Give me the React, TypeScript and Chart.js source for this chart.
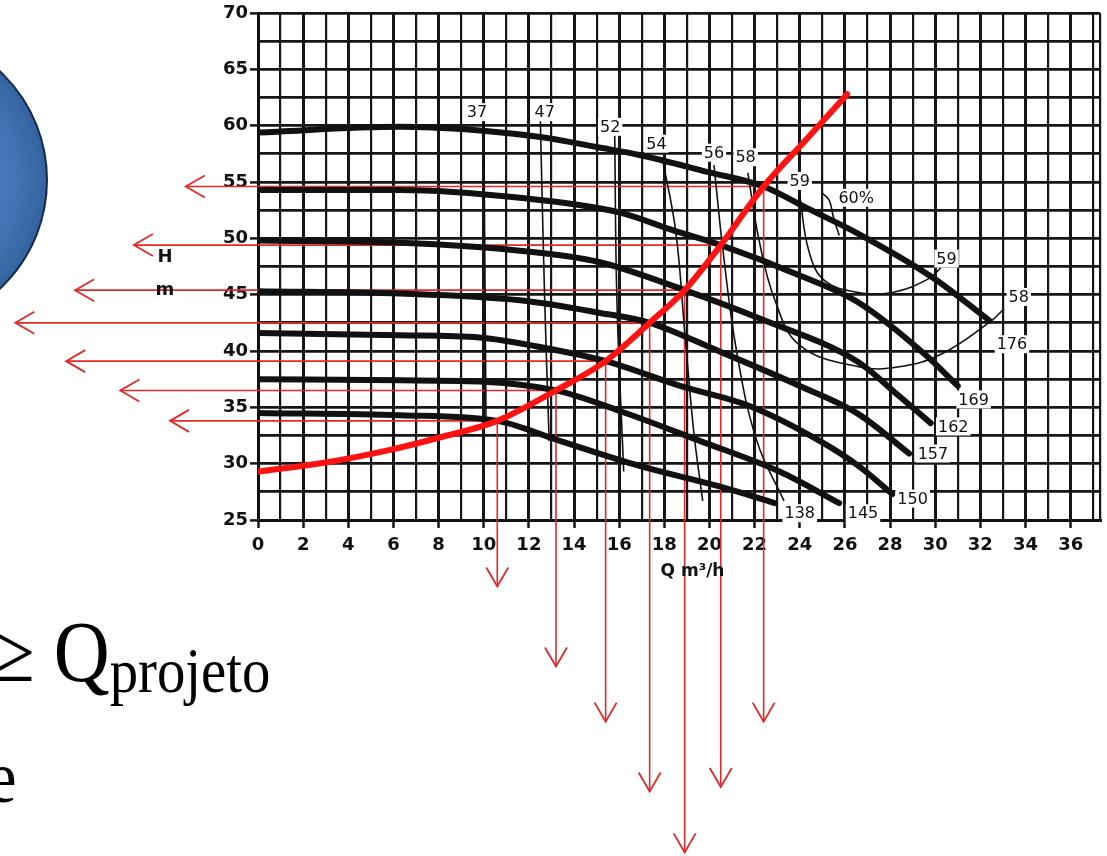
import React, { useEffect, useRef } from 'react';
import { Chart, registerables } from 'chart.js';

Chart.register(...registerables);

// ---- axes ----
const flowGrid = [0, 1, 2, 3, 4, 5, 6, 7, 8, 9, 10, 11, 12, 13, 14, 15, 16, 17, 18, 19, 20, 21, 22, 23, 24, 25, 26, 27, 28, 29, 30, 31, 32, 33, 34, 35, 36, 37];
const flowLabels = [0, 2, 4, 6, 8, 10, 12, 14, 16, 18, 20, 22, 24, 26, 28, 30, 32, 34, 36];
const flowMax = 37.3;
const headMin = 25;
const headMax = 70;

// ---- impeller head curves (Q m3/h, H m) ----
const diameters = ['176', '169', '162', '157', '150', '145', '138'];
const q176 = [0, 6.3, 12.5, 15.0, 16.9, 19.9, 22.4, 24.3, 26.6, 29.9, 32.4];
const h176 = [59.4, 59.9, 59.0, 58.1, 57.4, 55.9, 54.6, 52.7, 50.4, 46.5, 42.7];
const q169 = [0, 6.3, 11.6, 16.0, 18.4, 20.5, 24.0, 26.6, 29.6, 31.0];
const h169 = [54.3, 54.3, 53.6, 52.3, 50.7, 49.4, 46.7, 44.3, 39.6, 36.9];
const q162 = [0, 6.3, 11.6, 15.1, 18.9, 22.2, 26.6, 28.4, 29.8];
const h162 = [49.8, 49.6, 48.9, 47.9, 45.4, 42.9, 39.0, 36.0, 33.6];
const q157 = [0, 6.3, 11.6, 15.1, 17.35, 20.4, 24.0, 26.6, 28.85];
const h157 = [45.3, 45.1, 44.5, 43.4, 42.5, 40.0, 36.9, 34.4, 30.9];
const q150 = [0, 6.3, 9.8, 12.9, 15.4, 18.7, 21.8, 24.9, 26.6, 28.1];
const h150 = [41.6, 41.4, 41.2, 40.2, 39.1, 36.9, 35.1, 32.0, 29.8, 27.3];
const q145 = [0, 6.3, 9.8, 13.2, 16.0, 19.6, 23.1, 25.75];
const h145 = [37.5, 37.4, 37.3, 36.5, 34.7, 32.0, 29.3, 26.5];
const q138 = [0, 6.3, 10.6, 13.4, 16.9, 20.4, 22.9];
const h138 = [34.5, 34.3, 33.8, 32.0, 29.8, 28.0, 26.5];

// ---- system curve (red) ----
const qSys = [0, 3.0, 5.8, 8.0, 10.6, 13.2, 15.4, 17.35, 18.9, 20.5, 22.4, 24.3, 26.1];
const hSys = [29.3, 30.1, 31.2, 32.3, 33.8, 36.5, 39.1, 42.5, 45.4, 49.4, 54.6, 58.8, 62.8];

// ---- operating points and arrow ends ----
const opQ = [10.6, 13.2, 15.4, 17.35, 18.9, 20.5, 22.4];
const opH = [33.8, 36.5, 39.1, 42.5, 45.4, 49.4, 54.6];
const arrowLeftQ = [-3.9, -6.1, -8.5, -10.75, -8.1, -5.5, -3.2];
const arrowDownH = [19.1, 12.0, 7.1, 0.9, -4.5, 1.3, 7.1];

// ---- iso-efficiency curves ----
const qE37 = [10.0, 10.1];
const hE37 = [61.4, 33.8];
const qE47 = [12.5, 12.7, 12.9];
const hE47 = [61.2, 44.5, 32.0];
const qE52 = [15.8, 15.9, 16.2];
const hE52 = [59.6, 44.5, 29.3];
const qE54 = [17.9, 18.5, 18.9, 19.3, 19.7];
const hE54 = [57.2, 50.7, 41.8, 32.9, 26.7];
const qE56 = [20.2, 20.6, 21.2, 22.1, 23.3];
const hE56 = [56.5, 48.9, 40.0, 32.0, 26.7];
const qE58 = [21.7, 22.2, 22.9, 24.0, 26.6, 28.4, 30.3, 32.5, 33.05];
const hE58 = [55.8, 49.8, 44.5, 40.5, 38.6, 38.6, 39.75, 42.7, 43.75];
const qE59 = [24.0, 24.4, 25.1, 26.6, 28.1, 29.7, 30.3];
const hE59 = [53.8, 48.9, 46.25, 45.2, 45.2, 46.4, 47.5];
const qE60 = [25.0, 25.3, 25.5, 25.75];
const hE60 = [54.0, 53.4, 51.8, 50.25];

// ---- labels ----
const effLabels = ['37', '47', '52', '54', '56', '58', '59', '60%', '59', '58'];
const effLabelQ = [9.7, 12.7, 15.6, 17.65, 20.2, 21.6, 24.0, 26.5, 30.5, 33.7];
const effLabelH = [61.2, 61.2, 59.9, 58.4, 57.6, 57.2, 55.1, 53.6, 48.2, 44.8];
const diamLabelQ = [33.4, 31.7, 30.8, 29.9, 29.0, 26.8, 24.0];
const diamLabelH = [40.6, 35.7, 33.3, 30.9, 26.9, 25.6, 25.6];

const pts = (q: number[], h: number[]) => q.map((x, i) => ({ x, y: h[i] }));

export default function App() {
  const ref = useRef<HTMLCanvasElement>(null);

  useEffect(() => {
    const canvas = ref.current;
    if (!canvas) return;
    const red = '#ff1212';
    const arrowRed = '#e02a2a';
    const ink = '#111111';

    const curves = [
      [q176, h176], [q169, h169], [q162, h162], [q157, h157], [q150, h150], [q145, h145], [q138, h138],
    ];
    const effs = [
      [qE37, hE37], [qE47, hE47], [qE52, hE52], [qE54, hE54], [qE56, hE56],
      [qE58, hE58], [qE59, hE59], [qE60, hE60],
    ];

    const datasets: any[] = [];
    datasets.push({
      label: 'sistema', data: pts(qSys, hSys), showLine: true, borderColor: red, borderWidth: 6,
      pointRadius: 0, cubicInterpolationMode: 'monotone', borderCapStyle: 'round',
    });
    curves.forEach(([q, h], i) => {
      datasets.push({
        label: 'D' + diameters[i], data: pts(q, h), showLine: true, borderColor: ink, borderWidth: 6,
        pointRadius: 0, cubicInterpolationMode: 'monotone', borderCapStyle: 'round',
      });
    });
    effs.forEach(([q, h], i) => {
      datasets.push({
        label: 'eta' + i, data: pts(q, h), showLine: true, borderColor: ink, borderWidth: 1.6,
        pointRadius: 0, tension: 0.4,
      });
    });
    opQ.forEach((q, i) => {
      datasets.push({
        label: 'hArrow' + i, data: [{ x: arrowLeftQ[i], y: opH[i] }, { x: q, y: opH[i] }],
        showLine: true, borderColor: arrowRed, borderWidth: 1.6, pointRadius: 0, clip: false,
      });
      datasets.push({
        label: 'vArrow' + i, data: [{ x: q, y: opH[i] }, { x: q, y: arrowDownH[i] }],
        showLine: true, borderColor: arrowRed, borderWidth: 1.6, pointRadius: 0, clip: false,
      });
    });

    const annot = {
      id: 'annot',
      afterDatasetsDraw(chart: any) {
        const ctx = chart.ctx as CanvasRenderingContext2D;
        const xs = chart.scales.x;
        const ys = chart.scales.y;
        const area = chart.chartArea;
        ctx.save();
        // arrow heads
        ctx.strokeStyle = arrowRed;
        ctx.lineWidth = 1.8;
        opQ.forEach((q, i) => {
          const hx = xs.getPixelForValue(arrowLeftQ[i]);
          const hy = ys.getPixelForValue(opH[i]);
          ctx.beginPath();
          ctx.moveTo(hx + 19, hy - 11);
          ctx.lineTo(hx, hy);
          ctx.lineTo(hx + 19, hy + 11);
          ctx.stroke();
          const vx = xs.getPixelForValue(q);
          const vy = ys.getPixelForValue(arrowDownH[i]);
          ctx.beginPath();
          ctx.moveTo(vx - 11, vy - 19);
          ctx.lineTo(vx, vy);
          ctx.lineTo(vx + 11, vy - 19);
          ctx.stroke();
        });
        // labels with white background
        const boxLabel = (text: string, x: number, y: number) => {
          ctx.font = '16px "DejaVu Sans"';
          const w = ctx.measureText(text).width;
          ctx.fillStyle = '#fff';
          ctx.fillRect(x - w / 2 - 2, y - 9, w + 4, 18);
          ctx.fillStyle = ink;
          ctx.textAlign = 'center';
          ctx.textBaseline = 'middle';
          ctx.fillText(text, x, y + 1);
        };
        effLabels.forEach((t, i) => boxLabel(t, xs.getPixelForValue(effLabelQ[i]), ys.getPixelForValue(effLabelH[i])));
        diameters.forEach((t, i) => boxLabel(t, xs.getPixelForValue(diamLabelQ[i]), ys.getPixelForValue(diamLabelH[i])));
        // axis captions
        ctx.fillStyle = ink;
        ctx.font = 'bold 18px "DejaVu Sans"';
        ctx.textAlign = 'center';
        ctx.textBaseline = 'middle';
        ctx.fillText('H', area.left - 93, ys.getPixelForValue(48.3));
        ctx.fillText('m', area.left - 93, ys.getPixelForValue(45.4));
        ctx.font = 'bold 17px "DejaVu Sans"';
        ctx.fillText('Q m³/h', xs.getPixelForValue(19.25), area.bottom + 52);
        ctx.restore();
      },
    };

    const tickFont = { family: 'DejaVu Sans', weight: 'bold' as const, size: 18 };

    const chart = new Chart(canvas, {
      type: 'scatter',
      data: { datasets },
      options: {
        responsive: false,
        animation: false,
        events: [],
        layout: { padding: { left: 0, right: 7, top: 13, bottom: 296 } },
        plugins: { legend: { display: false }, tooltip: { enabled: false } },
        scales: {
          x: {
            type: 'linear',
            min: 0,
            max: flowMax,
            afterBuildTicks: (s: any) => {
              s.ticks = flowGrid.map((v) => ({ value: v })).concat([{ value: flowMax }]);
            },
            afterFit: (s: any) => { s.height = 40; },
            ticks: {
              autoSkip: false,
              maxRotation: 0,
              padding: 7,
              color: ink,
              font: tickFont,
              callback: (v: any) => (flowLabels.includes(Number(v)) ? String(v) : ''),
            },
            grid: {
              color: '#161616',
              lineWidth: (c: any) => (c.tick && flowLabels.includes(c.tick.value) ? 3 : 2.2),
              tickLength: 8,
              tickWidth: 2.5,
              tickColor: (c: any) => (c.tick && flowLabels.includes(c.tick.value) ? '#161616' : 'rgba(0,0,0,0)'),
            },
            border: { color: '#111', width: 3 },
          },
          y: {
            type: 'linear',
            min: headMin,
            max: headMax,
            afterFit: (s: any) => { s.width = 258; },
            ticks: {
              stepSize: 2.5,
              autoSkip: false,
              padding: 2,
              color: ink,
              font: tickFont,
              callback: (v: any) => (Number(v) % 5 === 0 ? String(v) : ''),
            },
            grid: {
              color: '#161616',
              lineWidth: 2.8,
              tickLength: 8,
              tickWidth: 2.5,
              tickColor: (c: any) => (c.tick && c.tick.value % 5 === 0 ? '#161616' : 'rgba(0,0,0,0)'),
            },
            border: { color: '#111', width: 3 },
          },
        },
      },
      plugins: [annot],
    } as any);

    return () => chart.destroy();
  }, []);

  return (
    <div style={{ position: 'fixed', left: 0, top: 0, width: 1107, height: 856, overflow: 'hidden', background: '#fff' }}>
      <div
        style={{
          position: 'absolute', left: -252, top: 30, width: 300, height: 300, borderRadius: '50%',
          background: 'radial-gradient(circle at 50% 50%, #5f90cf 0%, #4476b6 55%, #33629e 72%, #244a78 88%, #172f50 100%)',
          boxSizing: 'border-box', border: '2px solid #142a47',
        }}
      />
      <canvas ref={ref} width={1107} height={856} style={{ position: 'absolute', left: 0, top: 0, width: 1107, height: 856 }} />
      <div
        style={{
          position: 'absolute', left: -8, top: 609, fontFamily: '"Liberation Serif", "Times New Roman", serif',
          fontSize: 86, lineHeight: 1, whiteSpace: 'nowrap', color: '#000',
          transform: 'scaleX(0.9)', transformOrigin: '0 0',
        }}
      >
        ≥ Q<span style={{ fontSize: 63, verticalAlign: -11 }}>projeto</span>
      </div>
      <div
        style={{
          position: 'absolute', left: -13, top: 740, fontFamily: '"Liberation Serif", "Times New Roman", serif',
          fontSize: 74, lineHeight: 1, whiteSpace: 'nowrap', color: '#000',
          transform: 'scaleX(0.9)', transformOrigin: '0 0',
        }}
      >
        e
      </div>
    </div>
  );
}
